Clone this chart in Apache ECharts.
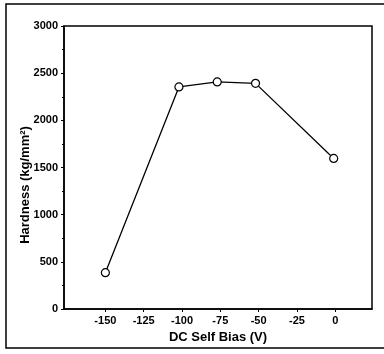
<!DOCTYPE html>
<html>
<head>
<meta charset="utf-8">
<script src="https://cdn.jsdelivr.net/npm/echarts@6/dist/echarts.min.js"></script>
<style>
  html, body { margin: 0; padding: 0; background: #fff; }
  #chart { width: 384px; height: 354px; }
</style>
</head>
<body>
<div id="chart"></div>
<script>
// valeurs
const biasVolts = [-150, -102, -77, -52, -1];
const hardness = [385, 2354, 2407, 2392, 1596];
const xTicks = [-150, -125, -100, -75, -50, -25, 0];
const yTicks = [0, 500, 1000, 1500, 2000, 2500, 3000];

const font = "'Liberation Sans', Arial, sans-serif";

var chartDom = document.getElementById("chart");
var myChart = echarts.init(chartDom, null, { renderer: "canvas" });

var option = {
  backgroundColor: "#fff",
  animation: false,
  grid: {
    left: 64,
    top: 26,
    right: 12,
    bottom: 45,
    show: true,
    borderColor: "#000",
    borderWidth: 1.5,
  },
  xAxis: {
    type: "value",
    min: -177,
    max: 24,
    name: "DC Self Bias (V)",
    nameLocation: "middle",
    nameGap: 22,
    nameTextStyle: { color: "#000", fontFamily: font, fontWeight: "bold", fontSize: 13 },
    splitLine: { show: false },
    axisLine: { show: true, onZero: false, lineStyle: { color: "#000", width: 1.5 } },
    axisTick: { show: true, length: 3, customValues: xTicks, lineStyle: { color: "#000" } },
    axisLabel: {
      customValues: xTicks,
      formatter: (v) => String(v),
      color: "#000",
      fontFamily: font,
      fontWeight: "bold",
      fontSize: 11,
      margin: 6,
    },
  },
  yAxis: {
    type: "value",
    min: 0,
    max: 3000,
    interval: 500,
    splitLine: { show: false },
    axisLine: { show: true, onZero: false, lineStyle: { color: "#000", width: 1.5 } },
    axisTick: { show: true, length: 3, lineStyle: { color: "#000" } },
    minorTick: { show: true, splitNumber: 2, length: 2, lineStyle: { color: "#000" } },
    axisLabel: {
      customValues: yTicks,
      formatter: (v) => String(v),
      color: "#000",
      fontFamily: font,
      fontWeight: "bold",
      fontSize: 11,
      margin: 6,
    },
  },
  graphic: [
    {
      type: "rect",
      shape: { x: 6, y: 4, width: 400, height: 344 },
      style: { fill: "none", stroke: "#000", lineWidth: 1.5 },
      silent: true,
    },
    {
      type: "text",
      x: 25,
      y: 185,
      rotation: Math.PI / 2,
      style: {
        text: "Hardness (kg/mm²)",
        fill: "#000",
        font: "bold 13px " + font,
        textAlign: "center",
        textVerticalAlign: "middle",
      },
    },
  ],
  series: [
    {
      type: "line",
      data: biasVolts.map((v, i) => [v, hardness[i]]),
      symbol: "circle",
      symbolSize: 8,
      lineStyle: { color: "#000", width: 1.3 },
      itemStyle: { color: "#fff", borderColor: "#000", borderWidth: 1.2 },
    },
  ],
};

myChart.setOption(option);
</script>
</body>
</html>
